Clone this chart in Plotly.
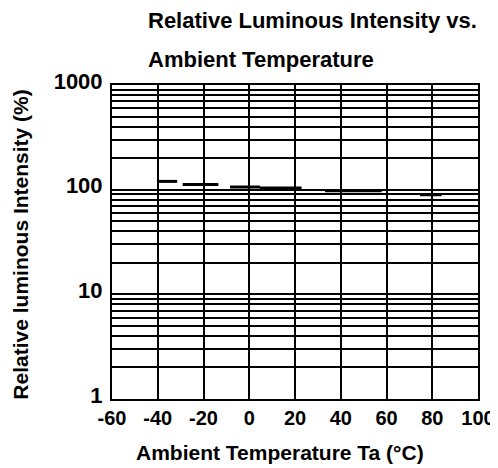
import plotly.graph_objects as go

# Data (step-like segments of the curve)
seg_start_temp = [-40, -29.1, -8.4, 4.7, 33.1, 74.6]
seg_end_temp = [-31.5, -13.5, 4.7, 22.9, 57.9, 84.1]
seg_intensity = [120, 112, 106, 104, 97.8, 89.5]

x_ticks = [-60, -40, -20, 0, 20, 40, 60, 80, 100]
y_ticks = [1, 10, 100, 1000]

xs, ys = [], []
for a, b, v in zip(seg_start_temp, seg_end_temp, seg_intensity):
    xs += [a, b, None]
    ys += [v, v, None]

fig = go.Figure()
fig.add_trace(go.Scatter(x=xs, y=ys, mode="lines",
                         line=dict(color="black", width=3),
                         connectgaps=False, showlegend=False))

font_main = "Liberation Sans, Arial, sans-serif"

# the page adds an 8px body margin, so the figure is sized to end at the window edge
fig.update_layout(
    width=490, height=460,
    margin=dict(l=104, r=20, t=77, b=69),
    paper_bgcolor="white", plot_bgcolor="white",
    font=dict(family=font_main, color="black"),
    showlegend=False,
)
fig.update_xaxes(
    range=[-60, 100], tickvals=x_ticks, ticktext=[str(t) for t in x_ticks],
    showgrid=True, gridcolor="black", gridwidth=2,
    showline=True, linecolor="black", linewidth=2, mirror=True,
    zeroline=False, ticks="", automargin=False,
    tickfont=dict(size=20, family=font_main, weight="bold"),
)
fig.update_yaxes(
    type="log", range=[0, 3], tickvals=y_ticks, ticktext=[str(t) for t in y_ticks],
    showgrid=True, gridcolor="black", gridwidth=2,
    minor=dict(dtick="D1", showgrid=True, gridcolor="black", gridwidth=1.5, ticks=""),
    showline=True, linecolor="black", linewidth=2, mirror=True,
    zeroline=False, ticks="", ticklabelstandoff=3, ticklabelshift=-4, automargin=False,
    tickfont=dict(size=22, family=font_main, weight="bold"),
)

# axis titles as annotations for exact placement
fig.add_annotation(text="<b>Ambient Temperature Ta (°C)</b>", xref="paper", yref="paper",
                   x=0.46, y=-0.169, xanchor="center", yanchor="middle",
                   showarrow=False, font=dict(size=21, family=font_main))
fig.add_annotation(text="<b>Relative luminous Intensity (%)</b>", xref="paper", yref="paper",
                   x=-0.25, y=0.49, xanchor="center", yanchor="middle", textangle=-90,
                   showarrow=False, font=dict(size=21, family=font_main))

title_lines = ["Relative Luminous Intensity vs.", "Ambient Temperature"]
title_y = [1.207, 1.080]
for txt, yy in zip(title_lines, title_y):
    fig.add_annotation(text="<b>" + txt + "</b>", xref="paper", yref="paper",
                       x=0.093, y=yy, xanchor="left", yanchor="middle",
                       showarrow=False, font=dict(size=22, family=font_main))

fig.write_html("out.html")
